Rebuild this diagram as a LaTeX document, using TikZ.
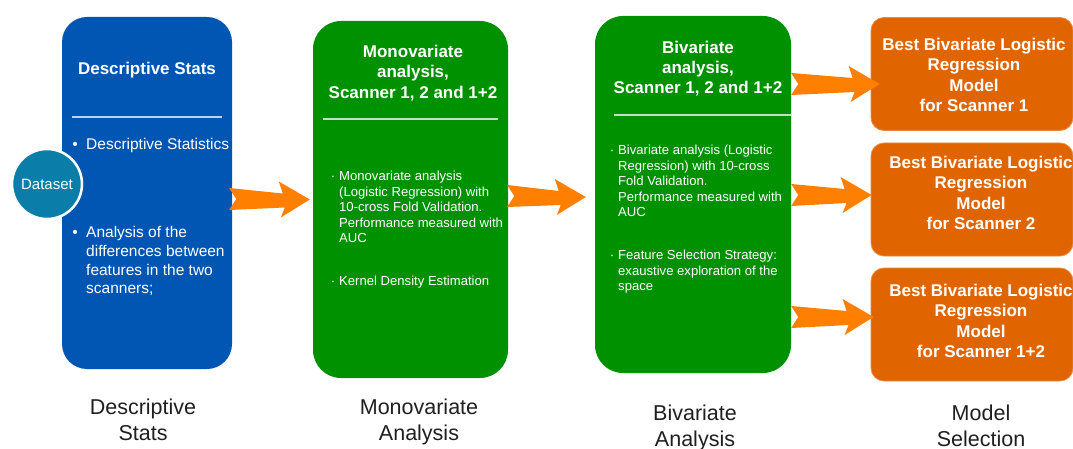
\documentclass[tikz,border=0pt]{standalone}
\usepackage{fontspec}
\setmainfont{Liberation Sans}
\usepackage{tikz}
\usetikzlibrary{calc,positioning}
\definecolor{statblue}{HTML}{0156B3}
\definecolor{anagreen}{HTML}{009100}
\definecolor{selorange}{HTML}{E06500}
\definecolor{arroworange}{HTML}{FF8000}
\definecolor{datateal}{HTML}{0A7DA8}

% fat orange arrow: #1 tail point, #2 tip point
\newcommand{\fatarrow}[2]{%
  \fill[arroworange] ($(#1)+(0,11)$) -- ($(#2)+(-27,6)$) -- ($(#2)+(-31,18)$) -- (#2)
    -- ($(#2)+(-29,-18)$) -- ($(#2)+(-25,-8)$) -- ($(#1)+(0,-11)$) -- ($(#1)+(7,0)$) -- cycle;}

\begin{document}
\begin{tikzpicture}[x=1pt,y=1pt,
    stage/.style={inner sep=0pt},
    selbox/.style={fill=selorange, draw=selorange!75!white, line width=0.8pt, rounded corners=13pt,
      minimum width=202pt, minimum height=113pt, inner sep=0pt},
    boxtitle/.style={text=white, font=\fontsize{17}{20.3}\selectfont\bfseries, align=center, inner sep=0pt},
    bigtext/.style={text=white, font=\fontsize{15.5}{18.7}\selectfont, align=left, anchor=north west, inner sep=0pt},
    boxtext/.style={text=white, font=\fontsize{13.1}{15.5}\selectfont, align=left, anchor=north west, inner sep=0pt},
    caption/.style={text=black!88, font=\fontsize{21.5}{26}\selectfont, align=center, inner sep=0pt},
    rule/.style={white, opacity=0.75, line width=1.2pt}]
    \useasboundingbox (0,0) rectangle (1073,-449);

    % stage boxes
    \node[stage, fill=statblue, rounded corners=25pt, minimum width=170pt, minimum height=352pt] (desc) at (147,-193) {};
    \node[stage, fill=anagreen, rounded corners=28pt, minimum width=195pt, minimum height=357pt] (mono) at (410.5,-199.5) {};
    \node[stage, fill=anagreen, rounded corners=28pt, minimum width=196pt, minimum height=357pt] (biv) at (693,-194.5) {};
    \node[selbox] (sel1) at (972,-74) {};
    \node[selbox] (sel2) at (972,-199.5) {};
    \node[selbox] (sel3) at (972,-324.5) {};

    % dataset
    \node[circle, fill=datateal, draw=white, line width=2.5pt, minimum size=70pt, inner sep=0pt,
      text=white, font=\fontsize{15}{18}\selectfont] (data) at (47,-184) {Dataset};

    % arrows
    \coordinate (t1) at ([xshift=-3pt,yshift=-6pt]desc.east);
    \coordinate (h1) at ([xshift=-3pt]mono.west);
    \coordinate (t2) at ([xshift=-1pt,yshift=3.5pt]mono.east);
    \coordinate (h2) at ([xshift=-9pt,yshift=-2.5pt]biv.west);
    \coordinate (h3) at ([xshift=9pt,yshift=-10pt]sel1.west);
    \coordinate (h4) at ([xshift=1pt,yshift=4.5pt]sel2.west);
    \coordinate (h5) at ([xshift=3pt,yshift=7.5pt]sel3.west);
    \coordinate (t3) at (biv.east |- h3);
    \coordinate (t4) at (biv.east |- h4);
    \coordinate (t5) at (biv.east |- h5);
    \fatarrow{t1}{h1}
    \fatarrow{t2}{h2}
    \fatarrow{t3}{h3}
    \fatarrow{t4}{h4}
    \fatarrow{t5}{h5}

    % descriptive stats
    \node[boxtitle, anchor=base] (desct) at (147,-74.1) {Descriptive Stats};
    \draw[rule] (72,-117) -- (222,-117);
    \node[bigtext] (descb1) at (86,-136.6) {\llap{\textbullet\hspace{8.5pt}}\strut Descriptive Statistics};
    \node[bigtext] (descb2) at (86,-224.6) {\llap{\textbullet\hspace{8.5pt}}\strut Analysis of the\\differences between\\features in the two\\scanners;};

    % monovariate
    \node[boxtitle] (monot) at (413,-73) {Monovariate\\analysis,\\Scanner 1, 2 and 1+2};
    \draw[rule] (323,-119) -- (498,-119);
    \node[boxtext] (monob1) at (339,-169.9) {\llap{·\hspace{4pt}}\strut Monovariate analysis\\(Logistic Regression) with\\10-cross Fold Validation.\\Performance measured with\\AUC};
    \node[boxtext] (monob2) at (339,-274.9) {\llap{·\hspace{4pt}}\strut Kernel Density Estimation};

    % bivariate
    \node[boxtitle] (bivt) at (698,-68.5) {Bivariate\\analysis,\\Scanner 1, 2 and 1+2};
    \draw[rule] (614,-115) -- (791,-115);
    \node[boxtext] (bivb1) at (618,-143.9) {\llap{·\hspace{4pt}}\strut Bivariate analysis (Logistic\\Regression) with 10-cross\\Fold Validation.\\Performance measured with\\AUC};
    \node[boxtext] (bivb2) at (618,-248.9) {\llap{·\hspace{4pt}}\strut Feature Selection Strategy:\\exaustive exploration of the\\space};

    % model selection
    \node[boxtitle] (sel1t) at (974,-75) {Best Bivariate Logistic\\Regression\\Model\\for Scanner 1};
    \node[boxtitle] (sel2t) at (981,-193) {Best Bivariate Logistic\\Regression\\Model\\for Scanner 2};
    \node[boxtitle] (sel3t) at (981,-321) {Best Bivariate Logistic\\Regression\\Model\\for Scanner 1+2};

    % captions
    \node[caption] (cap1) at (143,-420) {Descriptive\\Stats};
    \node[caption] (cap2) at (419,-421.7) {Monovariate\\Analysis};
    \node[caption] (cap3) at (695,-427.7) {Bivariate\\Analysis};
    \node[caption] (cap4) at (981,-425.5) {Model\\Selection};
\end{tikzpicture}
\end{document}
